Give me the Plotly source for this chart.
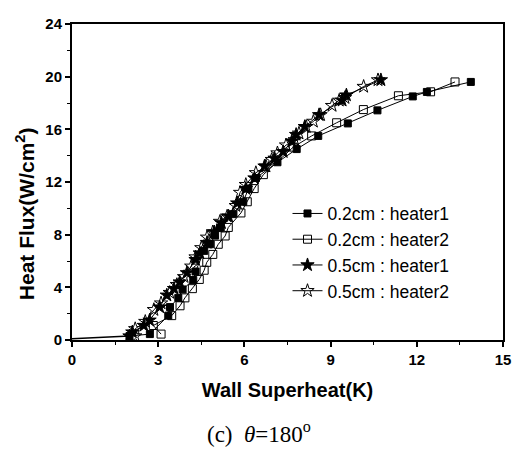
import plotly.graph_objects as go

# lead-in segment of the curves (below onset of boiling)
x_lead = [0, 2.0]
y_lead = [0.1, 0.3]

# 0.2cm : heater1 (filled squares)
x_02_h1 = [2.0, 2.71, 3.35, 3.41, 3.70, 3.85, 4.22, 4.30, 4.60, 4.80, 4.98, 5.15, 5.60, 5.96,
           6.14, 6.40, 7.15, 7.82, 8.57, 9.60, 10.63, 11.86, 12.35, 13.88]
y_02_h1 = [0.3, 0.45, 1.85, 2.50, 3.20, 3.84, 4.56, 5.20, 6.77, 7.27, 7.93, 8.50, 9.56, 10.5,
           11.5, 12.3, 13.5, 14.5, 15.5, 16.45, 17.44, 18.5, 18.84, 19.6]

# 0.2cm : heater2 (open squares)
x_02_h2 = [3.10, 2.83, 3.47, 3.76, 3.93, 4.19, 4.43, 4.60, 4.69, 4.90, 5.09, 5.33, 5.44, 5.88,
           6.10, 6.34, 6.66, 7.70, 8.34, 9.21, 10.14, 11.36, 12.48, 13.33]
y_02_h2 = [0.45, 1.1, 1.85, 2.6, 3.2, 3.9, 4.6, 5.3, 5.9, 6.5, 7.27, 7.9, 8.55, 9.65,
           10.5, 11.5, 12.56, 14.65, 15.5, 16.5, 17.5, 18.55, 18.85, 19.6]

# 0.5cm : heater1 (filled stars)
x_05_h1 = [2.0, 2.1, 2.5, 2.7, 3.05, 3.3, 3.55, 3.75, 4.0, 4.3, 4.45, 4.7, 4.95, 5.2, 5.45,
           5.75, 6.05, 6.35, 6.7, 7.05, 7.35, 7.65, 7.8, 8.1, 8.6, 9.4, 9.55, 10.75]
y_05_h1 = [0.3, 0.6, 1.1, 1.5, 2.5, 3.4, 3.9, 4.4, 5.1, 6.1, 6.6, 7.4, 8.2, 8.9, 9.4,
           10.4, 11.5, 12.3, 13.2, 13.8, 14.3, 15.1, 15.6, 16.2, 17.1, 18.2, 18.6, 19.75]

# 0.5cm : heater2 (open stars)
x_05_h2 = [2.2, 2.2, 2.55, 2.85, 3.1, 3.4, 3.65, 3.9, 4.15, 4.3, 4.5, 4.7, 4.9, 5.15, 5.4, 5.7,
           5.85, 6.05, 6.4, 6.75, 6.95, 7.15, 7.45, 7.75, 7.9, 8.15, 8.4, 8.65, 9.05, 9.3,
           9.5, 10.15, 10.65]
y_05_h2 = [0.3, 0.85, 1.4, 2.3, 2.8, 3.6, 4.2, 4.8, 5.6, 6.3, 7.0, 7.8, 8.2, 9.0, 9.4, 10.2,
           11.2, 11.8, 12.7, 13.2, 13.7, 14.2, 14.8, 15.2, 15.7, 16.2, 16.6, 17.1, 17.8, 18.2,
           18.4, 19.25, 19.75]

names = ["0.2cm : heater1", "0.2cm : heater2", "0.5cm : heater1", "0.5cm : heater2"]

x_ticks = [0, 3, 6, 9, 12, 15]
y_ticks = [0, 4, 8, 12, 16, 20, 24]

fig = go.Figure()

fig.add_trace(go.Scatter(x=x_lead, y=y_lead, mode="lines", showlegend=False,
                         line=dict(color="black", width=1.5), hoverinfo="skip"))

series = [
    (x_02_h1, y_02_h1, names[0], "square", 7),
    (x_02_h2, y_02_h2, names[1], "square-open", 8),
    (x_05_h1, y_05_h1, names[2], "star", 10),
    (x_05_h2, y_05_h2, names[3], "star-open", 10),
]
for xs, ys, nm, sym, s in series:
    fig.add_trace(go.Scatter(
        x=xs, y=ys, name=nm, mode="lines+markers",
        line=dict(color="black", width=1),
        marker=dict(symbol=sym, size=s, color="black",
                    line=dict(color="black", width=1)),
    ))

axis_common = dict(
    showgrid=False, zeroline=False, showline=True, linecolor="black", linewidth=2,
    mirror=True, ticks="outside", ticklen=5, tickwidth=1.5, tickcolor="black",
    tickfont=dict(family="Liberation Sans", size=15, color="black", weight="bold"),
)

fig.update_xaxes(range=[0, 15], tickvals=x_ticks, ticktext=[str(v) for v in x_ticks],
                 minor=dict(ticks="outside", ticklen=3, dtick=1.5, tickcolor="black", tickwidth=1.2),
                 title=dict(text="Wall Superheat(K)", standoff=16,
                            font=dict(family="Liberation Sans", size=20, color="black", weight="bold")),
                 **axis_common)
fig.update_yaxes(range=[0, 24], tickvals=y_ticks, ticktext=[str(v) for v in y_ticks],
                 minor=dict(ticks="outside", ticklen=3, dtick=2, tickcolor="black", tickwidth=1.2),
                 **axis_common)

fig.add_annotation(text="Heat Flux(W/cm<sup>2</sup>)", textangle=-90, xref="paper", yref="paper",
                   x=-0.11, y=0.40, xanchor="center", yanchor="middle", showarrow=False,
                   font=dict(family="Liberation Sans", size=21, color="black", weight="bold"))

fig.add_annotation(text="(c)  <i>θ</i>=180<sup>o</sup>", xref="paper", yref="paper",
                   x=0.435, y=-0.293, xanchor="center", yanchor="middle", showarrow=False,
                   font=dict(family="Liberation Serif", size=23, color="black"))

fig.update_layout(
    width=516, height=442,
    margin=dict(l=64, r=21, t=7, b=110),
    paper_bgcolor="white", plot_bgcolor="white",
    showlegend=True,
    legend=dict(x=0.50, y=0.457, xanchor="left", yanchor="top", bgcolor="rgba(0,0,0,0)",
                font=dict(family="Liberation Sans", size=17.5, color="black"),
                tracegroupgap=0),
)

fig.write_html("out.html")
